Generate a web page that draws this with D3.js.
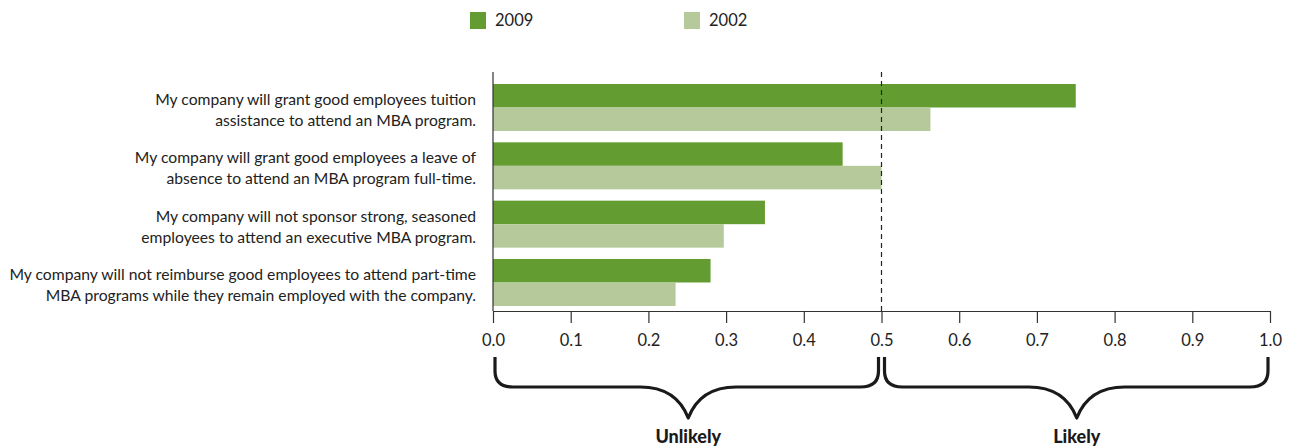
<!DOCTYPE html>
<html><head><meta charset="utf-8">
<script src="https://cdn.jsdelivr.net/npm/d3@7"></script>
<style>body{margin:0;background:#fff}svg{display:block}</style>
</head><body>
<svg id="c" width="1291" height="447"></svg>
<script>
const categories = [
  ["My company will grant good employees tuition", "assistance to attend an MBA program."],
  ["My company will grant good employees a leave of", "absence to attend an MBA program full-time."],
  ["My company will not sponsor strong, seasoned", "employees to attend an executive MBA program."],
  ["My company will not reimburse good employees to attend part-time", "MBA programs while they remain employed with the company."]
];
const series = ["2009", "2002"];
const values2009 = [0.75, 0.45, 0.35, 0.28];
const values2002 = [0.563, 0.50, 0.297, 0.235];
const xTicks = [0, 0.1, 0.2, 0.3, 0.4, 0.5, 0.6, 0.7, 0.8, 0.9, 1.0];
const braces = [{from: 0, to: 0.5, label: "Unlikely"}, {from: 0.5, to: 1.0, label: "Likely"}];
const colors = {"2009": "#639d31", "2002": "#b5c99a"};

const font = "Lato, 'Open Sans', sans-serif";
const svg = d3.select("#c");
const x = d3.scaleLinear().domain([0, 1]).range([493, 1270]);
const y = d3.scaleBand().domain(d3.range(categories.length)).range([84, 306]).paddingInner(0.194).paddingOuter(0);
const ys = d3.scaleBand().domain(series).range([0, y.bandwidth()]);

const data = categories.map((c, i) => ({i, vals: {"2009": values2009[i], "2002": values2002[i]}}));

// bars
const g = svg.append("g");
data.forEach(d => {
  series.forEach(s => {
    g.append("rect")
      .attr("x", x(0))
      .attr("y", y(d.i) + ys(s))
      .attr("width", x(d.vals[s]) - x(0))
      .attr("height", ys.bandwidth())
      .attr("fill", colors[s]);
  });
});

// dashed line at 0.5
svg.append("line").attr("x1", x(0.5)).attr("x2", x(0.5)).attr("y1", 72).attr("y2", 311)
  .attr("stroke", "#222").attr("stroke-width", 1.2).attr("stroke-dasharray", "5,4");

// y axis line
svg.append("line").attr("x1", x(0)).attr("x2", x(0)).attr("y1", 72).attr("y2", 311)
  .attr("stroke", "#333").attr("stroke-width", 1.2);

// x axis
const xAxis = d3.axisBottom(x).tickValues(xTicks).tickFormat(d3.format(".1f")).tickSize(12).tickSizeOuter(0).tickPadding(11);
const ax = svg.append("g").attr("transform", "translate(0,311)").call(xAxis);
ax.select(".domain").attr("stroke", "#333").attr("stroke-width", 1.2);
ax.selectAll(".tick line").attr("stroke", "#333").attr("stroke-width", 1.2);
ax.selectAll(".tick text").attr("font-family", font).attr("font-size", 16.5).attr("fill", "#222");

// category labels
data.forEach(d => {
  const t = svg.append("text").attr("text-anchor", "end").attr("font-family", font)
    .attr("font-size", 15.7).attr("fill", "#222");
  categories[d.i].forEach((line, k) => {
    t.append("tspan").attr("x", 476).attr("y", y(d.i) + 21 + k * 21).text(line);
  });
});

// braces
braces.forEach(b => {
  const x0 = x(b.from) + (b.from === 0 ? 2 : 3), x1 = x(b.to) - (b.to === 1 ? 2 : 3);
  const xm = (x(b.from) + x(b.to)) / 2 + 1;
  const top = 357, hy = 387, tip = 418;
  const path = `M${x0},${top} L${x0},${hy - 16} Q${x0},${hy} ${x0 + 18},${hy} L${xm - 48},${hy} Q${xm - 12},${hy} ${xm},${tip} Q${xm + 12},${hy} ${xm + 48},${hy} L${x1 - 18},${hy} Q${x1},${hy} ${x1},${hy - 16} L${x1},${top}`;
  svg.append("path").attr("d", path).attr("fill", "none").attr("stroke", "#1a1a1a").attr("stroke-width", 3.2).attr("stroke-linejoin", "round");
  svg.append("text").attr("x", xm).attr("y", 443).attr("text-anchor", "middle").attr("font-family", font)
    .attr("font-weight", 900).attr("font-size", 18).attr("fill", "#1a1a1a").text(b.label);
});

// legend
const legendX = {"2009": 470, "2002": 684};
series.forEach(s => {
  svg.append("rect").attr("x", legendX[s]).attr("y", 12).attr("width", 16).attr("height", 17).attr("fill", colors[s]);
  svg.append("text").attr("x", legendX[s] + 25).attr("y", 26).attr("font-family", font).attr("font-size", 16.5)
    .attr("fill", "#222").text(s);
});
</script>
</body></html>
